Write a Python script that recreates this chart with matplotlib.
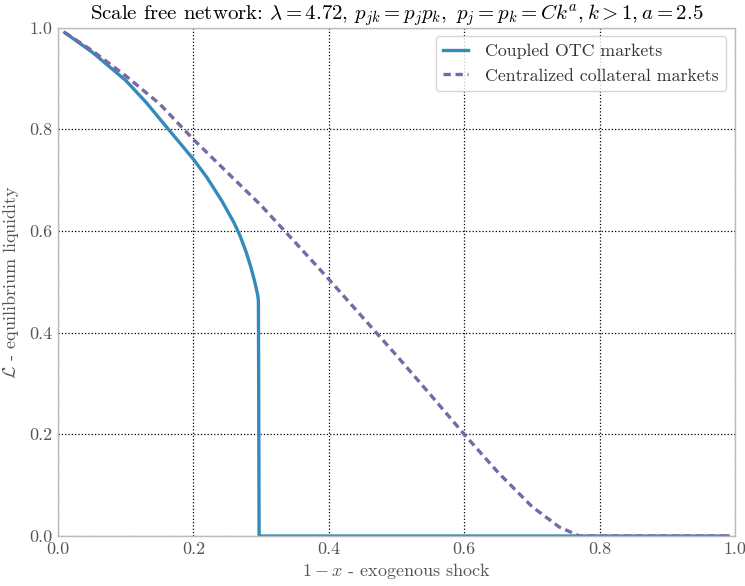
import matplotlib
matplotlib.use("Agg")
import matplotlib.pyplot as plt

plt.rcParams['font.family'] = 'serif'
plt.rcParams['font.serif'] = ['cmr10', 'DejaVu Serif']
plt.rcParams['mathtext.fontset'] = 'cm'
plt.rcParams['axes.formatter.use_mathtext'] = True
plt.rcParams['axes.unicode_minus'] = False

# Coupled OTC markets
otc_x = [0.01, 0.05, 0.10, 0.13, 0.163, 0.20, 0.22, 0.242, 0.26, 0.269, 0.278, 0.285, 0.29, 0.293, 0.295, 0.296,
         0.297, 0.30, 0.40, 0.50, 0.60, 0.70, 0.80, 0.90, 0.99]
otc_y = [0.99, 0.952, 0.896, 0.853, 0.80, 0.741, 0.705, 0.659, 0.616, 0.590, 0.558, 0.528, 0.503, 0.486, 0.473, 0.462,
         0.0, 0.0, 0.0, 0.0, 0.0, 0.0, 0.0, 0.0, 0.0]

# Centralized collateral markets
ccp_x = [0.01, 0.05, 0.10, 0.15, 0.20, 0.25, 0.30, 0.35, 0.40, 0.45, 0.50, 0.55, 0.60, 0.65, 0.70, 0.74, 0.77,
         0.80, 0.90, 0.99]
ccp_y = [0.99, 0.955, 0.905, 0.85, 0.78, 0.715, 0.65, 0.578, 0.505, 0.43, 0.355, 0.278, 0.20, 0.125, 0.058, 0.018, 0.0,
         0.0, 0.0, 0.0]

xticks = [0.0, 0.2, 0.4, 0.6, 0.8, 1.0]
yticks = [0.0, 0.2, 0.4, 0.6, 0.8, 1.0]

fig = plt.figure(figsize=(7.45, 5.86), dpi=100)
ax = fig.add_axes([0.0779, 0.0853, 0.9087, 0.8677])

ax.plot(otc_x, otc_y, color='#348ABD', lw=2.4, label='Coupled OTC markets')
ax.plot(ccp_x, ccp_y, color='#7A68A6', lw=2.4, ls=(0, (2.2, 1.4)), label='Centralized collateral markets')

ax.set_xlim(0, 1)
ax.set_ylim(0, 1)
ax.set_xticks(xticks)
ax.set_yticks(yticks)
ax.set_xticklabels([f"{t:.1f}" for t in xticks])
ax.set_yticklabels([f"{t:.1f}" for t in yticks])
ax.tick_params(length=0, labelsize=13, colors='#555555', pad=4)
for s in ax.spines.values():
    s.set_color('#bcbcbc')
    s.set_linewidth(1.0)
ax.grid(True, color='black', ls=':', lw=0.9)
ax.set_axisbelow(True)

ax.set_title(r"Scale free network: $\lambda=4.72$, $p_{jk}=p_jp_k,\ p_j=p_k=Ck^a, k>1, a=$2.5",
             fontsize=15, pad=6)
ax.set_xlabel(r"$1-x$ - exogenous shock", fontsize=13, color='#555555', labelpad=3)
ax.set_ylabel(r"$\mathcal{L}$ - equilibrium liquidity", fontsize=13, color='#555555', labelpad=6)

leg = ax.legend(loc='upper right', fontsize=12.8, frameon=True, fancybox=True, handlelength=1.4,
                handletextpad=1.0, borderaxespad=0.5)
leg.get_frame().set_edgecolor('#cccccc')
for t in leg.get_texts():
    t.set_color('#333333')

fig.savefig('out.png', dpi=100)
